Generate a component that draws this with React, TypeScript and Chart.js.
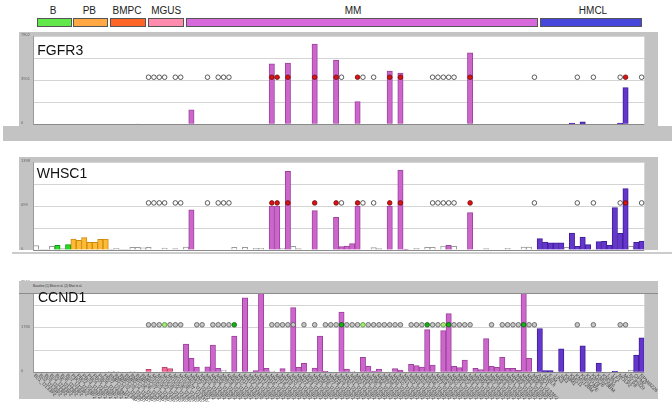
import React, { useEffect, useRef } from 'react';
import { Chart, registerables } from 'chart.js';

Chart.register(...registerables);

// ---------------- data ----------------
const groupNames = ['B', 'PB', 'BMPC', 'MGUS', 'MM', 'HMCL'];
const groupSizes = [7, 7, 7, 7, 66, 20];
const hmclLines = ['AMO1', 'ANBL6', 'EJM', 'JJN3', 'JIM3', 'KMM1', 'KMS11', 'KMS12BM', 'KMS12PE', 'KMS18',
  'KMS26', 'KMS28BM', 'KMS34', 'L363', 'LP1', 'MOLP2', 'MOLP8', 'NCIH929', 'OPM2', 'RPMI8226'];

const fgfr3Values = [
  0, 0, 0, 0, 0, 0, 0, 0, 0, 0,
  0, 0, 0, 0, 0, 0, 0, 0, 0, 40,
  0, 0, 0, 0, 0, 0, 0, 0, 0, 1272,
  0, 0, 0, 0, 0, 0, 0, 0, 0, 0,
  0, 0, 0, 0, 5352, 0, 0, 5438, 0, 0,
  0, 0, 7123, 0, 0, 0, 5703, 0, 0, 0,
  2013, 0, 0, 0, 0, 0, 4728, 0, 4549, 0,
  0, 0, 0, 0, 0, 0, 0, 0, 0, 0,
  0, 6327, 0, 0, 0, 0, 0, 0, 0, 0,
  0, 0, 0, 0, 0, 0, 0, 0, 0, 0,
  117, 0, 211, 0, 0, 0, 0, 0, 0, 117,
  3253, 0, 0, 0,
];
const fgfr3Absent = [19];
const fgfr3Max = 7802;
const fgfr3Ticks = ['0', '', '3901', '', '7802'];

const whsc1Values = [
  69, 11, 11, 59, 74, 21, 85, 175, 154, 196,
  122, 122, 169, 175, 7, 27, 7, 11, 42, 42,
  36, 42, 0, 0, 32, 0, 21, 0, 48, 640,
  0, 0, 0, 0, 0, 0, 0, 42, 0, 42,
  0, 27, 27, 0, 699, 699, 27, 1250, 59, 21,
  0, 0, 625, 0, 0, 0, 519, 53, 63, 101,
  699, 0, 0, 38, 21, 0, 699, 0, 1271, 11,
  0, 27, 0, 42, 42, 0, 63, 74, 59, 0,
  0, 593, 0, 0, 21, 0, 0, 0, 27, 0,
  0, 48, 48, 0, 180, 127, 112, 112, 112, 42,
  270, 59, 207, 85, 11, 133, 137, 74, 672, 264,
  974, 59, 122, 143,
];
const whsc1Absent = [0, 1, 2, 3, 5, 14, 15, 16, 17, 18, 19, 20, 21, 24, 26, 28, 37, 39, 41, 42, 46, 48, 49,
  63, 64, 71, 73, 74, 76, 78, 84, 88, 91, 92, 99, 104, 111];
const whsc1Max = 1398;
const whsc1Ticks = ['0', '', '699', '', '1398'];

const ccnd1Values = [
  0, 0, 0, 0, 0, 0, 0, 0, 0, 0,
  0, 0, 0, 0, 28, 28, 0, 0, 28, 0,
  0, 121, 0, 0, 199, 146, 0, 0, 1129, 559,
  214, 36, 224, 1089, 160, 93, 0, 1449, 0, 2990,
  0, 68, 3382, 160, 39, 0, 146, 0, 2592, 199,
  356, 0, 174, 1449, 39, 0, 0, 2417, 132, 39,
  0, 598, 239, 53, 132, 0, 0, 146, 93, 0,
  320, 267, 214, 1712, 292, 0, 1673, 2350, 239, 185,
  491, 0, 160, 107, 1353, 239, 199, 598, 160, 160,
  78, 3382, 559, 0, 1755, 68, 68, 0, 943, 0,
  0, 0, 1064, 0, 0, 370, 0, 0, 39, 0,
  0, 78, 691, 1381,
];
const ccnd1Absent = [14, 15, 18, 31, 35, 44, 59, 111];
const ccnd1Max = 3560;
const ccnd1Ticks = ['0', '', '1780', '', '3560'];

// translocation status markers (category indices)
const t414Negative = [21, 22, 23, 24, 26, 27, 32, 34, 35, 36, 57, 61, 63, 74, 75, 76, 77, 78, 93, 101, 104, 109, 113];
const t414Positive = [44, 45, 47, 52, 56, 60, 66, 68, 81, 110];
const t1114Negative = [21, 22, 23, 25, 26, 27, 30, 31, 33, 34, 35, 36, 44, 45, 46, 47, 48, 50, 52, 54, 55, 56,
  58, 59, 60, 62, 63, 64, 65, 66, 67, 68, 70, 71, 72, 74, 75, 78, 79, 80, 81, 85, 87, 88, 89, 90, 92, 93,
  101, 104, 109, 110];
const t1114Weak = [24, 61, 76];
const t1114Positive = [37, 57, 73, 77, 91];
const markerLevel = 0.535;

// ---------------- styles ----------------
const FRAME = '#c3c3c3';
const segColors = ['#62e84a', '#ffa844', '#ff6526', '#ff8bae', '#d869dc', '#4747dc'];
const barFill = ['#22dd22', '#ffbb33', '#ff6a2a', '#f06a98', '#cc66cc', '#6436cc'];
const barEdge = ['#119911', '#cc8a11', '#bb4411', '#b94470', '#9c439c', '#3f1f99'];

const categories: string[] = [];
groupNames.forEach((g, gi) => {
  for (let k = 1; k <= groupSizes[gi]; k++) {
    categories.push(g === 'HMCL' ? hmclLines[k - 1] : `${g}${String(k).padStart(2, '0')}_U133P2`);
  }
});

function groupOf(i: number) {
  let s = 0;
  for (let g = 0; g < groupSizes.length; g++) {
    s += groupSizes[g];
    if (i < s) return g;
  }
  return groupSizes.length - 1;
}

type Marker = { idx: number[]; fill: string; stroke: string };
type PanelProps = {
  top: number; height: number; padTop: number; padBottom: number;
  values: number[]; absent: number[]; max: number; ticks: string[];
  markers: Marker[]; showXLabels?: boolean;
};

function Panel(p: PanelProps) {
  const ref = useRef<HTMLCanvasElement>(null);
  useEffect(() => {
    const canvas = ref.current!;
    const level = p.max * markerLevel;
    const markerSets = p.markers.map((m) => ({
      type: 'line' as const,
      data: categories.map((_, i) => (m.idx.includes(i) ? level : null)),
      showLine: false,
      pointRadius: 2.3,
      pointBackgroundColor: m.fill,
      pointBorderColor: m.stroke,
      pointBorderWidth: 0.8,
      order: 0,
    }));
    const whiteArea = {
      id: 'whiteArea',
      beforeDraw(c: any) {
        const a = c.chartArea; const ctx = c.ctx;
        ctx.save(); ctx.fillStyle = '#ffffff';
        ctx.fillRect(a.left, a.top, a.right - a.left, a.bottom - a.top);
        ctx.restore();
      },
    };
    const xLabels = {
      id: 'xLabels',
      afterDraw(c: any) {
        if (!p.showXLabels) return;
        const ctx = c.ctx; const xs = c.scales.x; const y0 = c.chartArea.bottom + 2.5;
        ctx.save();
        ctx.font = '5px "Liberation Sans", Arial, sans-serif';
        ctx.fillStyle = '#4a4a4a'; ctx.textAlign = 'left'; ctx.textBaseline = 'middle';
        categories.forEach((lab, i) => {
          const x = xs.getPixelForValue(i);
          ctx.save(); ctx.translate(x - 1.5, y0); ctx.rotate(Math.PI / 4);
          ctx.fillText(lab, 0, 0); ctx.restore();
        });
        ctx.restore();
      },
    };
    const chart = new Chart(canvas, {
      type: 'bar',
      data: {
        labels: categories,
        datasets: [
          ...markerSets,
          {
            type: 'bar' as const,
            data: p.values,
            backgroundColor: p.values.map((_, i) => (p.absent.includes(i) ? '#ffffff' : barFill[groupOf(i)])),
            borderColor: p.values.map((_, i) => (p.absent.includes(i) ? '#9a9a9a' : barEdge[groupOf(i)])),
            borderWidth: 1,
            categoryPercentage: 1,
            barPercentage: 1,
            order: 1,
          } as any,
        ],
      },
      options: {
        animation: false,
        responsive: false,
        maintainAspectRatio: false,
        layout: { padding: { left: 21, right: 27.7, top: p.padTop, bottom: p.padBottom } },
        plugins: { legend: { display: false }, tooltip: { enabled: false } },
        scales: {
          x: { display: false, offset: true },
          y: {
            min: 0, max: p.max,
            afterFit(s: any) { s.width = 12.3; },
            ticks: {
              stepSize: p.max / 4, autoSkip: false, padding: 0,
              callback: (_v: any, i: number) => p.ticks[i] ?? '',
              font: { size: 4 }, color: '#666', crossAlign: 'far', labelOffset: -1.5,
            },
            grid: {
              color: (ctx: any) => (ctx.tick && ctx.tick.value === 0 ? '#8a8a8a' : '#d4d4d4'),
              drawTicks: false, lineWidth: 1,
            },
            border: { display: true, color: '#9a9a9a' },
          },
        },
      } as any,
      plugins: [whiteArea, xLabels],
    });
    return () => chart.destroy();
  }, []);
  return (
    <canvas ref={ref} width={672} height={p.height}
      style={{ position: 'absolute', left: 0, top: p.top, width: 672, height: p.height, display: 'block' }} />
  );
}

const segSpans = [[36.7, 71.7], [73.3, 108.3], [110, 146], [148, 184], [185.7, 538.3], [540, 641.7]];
const segLabelX = [53, 89.3, 127, 166.2, 353, 593];

export default function App() {
  const abs = (s: React.CSSProperties): React.CSSProperties => ({ position: 'absolute', ...s });
  const title = (t: string, left: number, top: number, z = 3) => (
    <div style={abs({ left, top, fontSize: 14, lineHeight: '14px', color: '#111', whiteSpace: 'nowrap', zIndex: z })}>{t}</div>
  );
  return (
    <div style={{ position: 'fixed', left: 0, top: 0, width: 672, height: 402, background: '#fff', overflow: 'hidden',
      fontFamily: '"Liberation Sans", Arial, sans-serif' }}>
      {groupNames.map((g, i) => (
        <div key={g} style={abs({ left: segLabelX[i], top: 6.2, fontSize: 10, lineHeight: '10px', color: '#222',
          transform: 'translateX(-50%)', whiteSpace: 'nowrap' })}>{g}</div>
      ))}
      {segSpans.map((s, i) => (
        <div key={i} style={abs({ left: s[0], top: 18.3, width: s[1] - s[0], height: 8.6, background: segColors[i],
          border: '1px solid #555', boxSizing: 'border-box' })} />
      ))}

      {/* frames */}
      <div style={abs({ left: 19, top: 32, width: 639, height: 94, background: FRAME })} />
      <div style={abs({ left: 3, top: 126, width: 669, height: 15, background: FRAME })} />
      <div style={abs({ left: 19, top: 157, width: 639, height: 93, background: FRAME })} />
      <div style={abs({ left: 12, top: 252, width: 660, height: 2, background: '#cccccc' })} />
      <div style={abs({ left: 19, top: 281, width: 639, height: 118, background: FRAME })} />

      <Panel top={30} height={100} padTop={6.3} padBottom={5.7} values={fgfr3Values} absent={fgfr3Absent}
        max={fgfr3Max} ticks={fgfr3Ticks}
        markers={[{ idx: t414Negative, fill: '#ffffff', stroke: '#333' }, { idx: t414Positive, fill: '#e01010', stroke: '#6a1010' }]} />
      <Panel top={155} height={100} padTop={7} padBottom={5} values={whsc1Values} absent={whsc1Absent}
        max={whsc1Max} ticks={whsc1Ticks}
        markers={[{ idx: t414Negative, fill: '#ffffff', stroke: '#333' }, { idx: t414Positive, fill: '#e01010', stroke: '#6a1010' }]} />
      <Panel top={276} height={126} padTop={7.5} padBottom={29.7} values={ccnd1Values} absent={ccnd1Absent}
        max={ccnd1Max} ticks={ccnd1Ticks} showXLabels
        markers={[{ idx: t1114Negative, fill: '#c8c8c8', stroke: '#555' }, { idx: t1114Weak, fill: '#a8ee6c', stroke: '#4a8a3a' },
          { idx: t1114Positive, fill: '#14b414', stroke: '#0a5a0a' }]} />

      {/* CCND1 header band overlay */}
      <div style={abs({ left: 19, top: 281, width: 639, height: 13, background: FRAME, borderBottom: '1px solid #8c8c8c',
        boxSizing: 'border-box', zIndex: 2 })} />
      <div style={abs({ left: 33, top: 284.5, fontSize: 3, lineHeight: '3px', color: '#333', whiteSpace: 'nowrap', zIndex: 3 })}>
        Baseline (1) Bhat et al. (2) Bhat et al.
      </div>

      {title('FGFR3', 37.3, 42.85)}
      {title('WHSC1', 36.7, 166.15)}
      {title('CCND1', 38, 289.65)}
    </div>
  );
}
